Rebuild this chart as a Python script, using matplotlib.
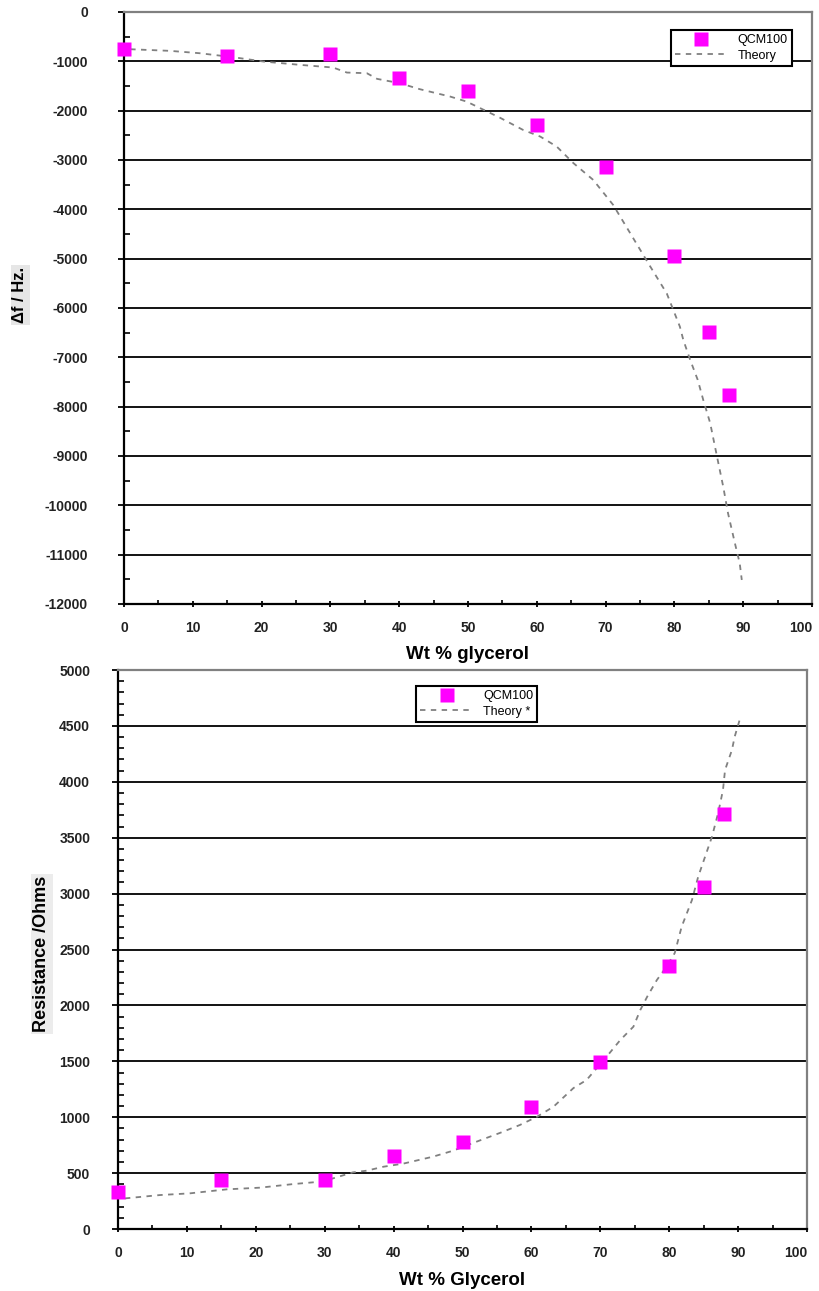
import numpy as np
import matplotlib
matplotlib.use("Agg")
import matplotlib.pyplot as plt
from matplotlib.ticker import MultipleLocator

plt.rcParams['font.family'] = ['Liberation Sans', 'DejaVu Sans']
plt.rcParams['axes.unicode_minus'] = False

# ---- data ----
wt_meas = [0, 15, 30, 40, 50, 60, 70, 80, 85, 88]
df_meas = [-760, -890, -850, -1340, -1610, -2290, -3150, -4950, -6480, -7770]
res_meas = [330, 440, 440, 655, 780, 1095, 1490, 2355, 3055, 3715]

wt_theory_f = [0.9, 6.7, 11.0, 15.9, 20.3, 25.6, 30.4, 32.4, 35.3, 36.8, 40.1,
               43.0, 47.4, 49.8, 51.7, 54.7, 58.0, 60.5, 62.9, 65.3, 68.2,
               71.1, 74.0, 76.5, 78.9, 80.8, 81.3, 82.3, 83.4, 84.2, 85.2,
               86.2, 87.1, 87.8, 88.8, 89.5, 89.8]
df_theory = [-757, -790, -838, -919, -1007, -1074, -1128, -1230, -1243, -1358,
             -1446, -1567, -1716, -1818, -1946, -2149, -2392, -2527, -2730,
             -3062, -3405, -3912, -4583, -5162, -5708, -6379, -6649, -7054,
             -7460, -7865, -8331, -9014, -9622, -10162, -10770, -11176, -11514]

wt_theory_r = [1.0, 6.1, 10.4, 15.8, 20.6, 25.4, 29.3, 31.2, 34.1, 36.1, 38.5,
               41.4, 45.7, 48.6, 51.5, 55.4, 58.3, 60.8, 63.2, 66.1, 68.0,
               70.9, 72.9, 74.8, 75.8, 76.8, 78.2, 79.6, 80.8, 81.8, 83.3,
               84.2, 85.2, 86.2, 87.1, 87.8, 88.1, 89.1, 89.5, 90.3]
res_theory = [274, 304, 319, 355, 370, 402, 423, 453, 507, 522, 557, 585, 647,
              700, 769, 859, 930, 1004, 1094, 1261, 1333, 1541, 1691, 1810,
              1959, 2078, 2227, 2346, 2469, 2704, 2943, 3151, 3330, 3509, 3721,
              3927, 4106, 4285, 4404, 4571]

MAGENTA = '#ff00ff'
GRAY = '#808080'


def style_axes(ax, ymin, ymax, ymajor, yminor, ypad):
    ax.set_xlim(0, 100)
    ax.set_ylim(ymin, ymax)
    ax.set_xticks(np.arange(0, 101, 10))
    ax.xaxis.set_minor_locator(MultipleLocator(5))
    ax.set_yticks(np.arange(ymin, ymax + 1, ymajor))
    ax.yaxis.set_minor_locator(MultipleLocator(yminor))
    # horizontal grid lines (not at the frame edges)
    for v in np.arange(ymin + ymajor, ymax, ymajor):
        ax.axhline(v, color='black', lw=1.3, zorder=1)
    ax.spines['left'].set_linewidth(1.6)
    ax.spines['bottom'].set_linewidth(1.6)
    ax.spines['top'].set_color(GRAY)
    ax.spines['right'].set_color(GRAY)
    ax.spines['top'].set_linewidth(1.6)
    ax.spines['right'].set_linewidth(1.6)
    ax.tick_params(axis='y', which='major', direction='out', length=4,
                   width=1.3, labelsize=10, pad=ypad)
    ax.tick_params(axis='y', which='minor', direction='in', length=4, width=1.2)
    ax.tick_params(axis='x', which='major', direction='inout', length=5,
                   width=1.3, labelsize=10, pad=10)
    ax.tick_params(axis='x', which='minor', direction='in', length=3, width=1.2)
    for lab in ax.get_xticklabels() + ax.get_yticklabels():
        lab.set_fontweight('bold')
        lab.set_color('#222222')
    # keep the "100" label inside the figure
    ax.get_xticklabels()[-1].set_horizontalalignment('right')


fig = plt.figure(figsize=(8.19, 12.91), dpi=100)

# ---- top: frequency shift ----
ax1 = fig.add_axes([0.1514, 0.5322, 0.840, 0.4586])
style_axes(ax1, -12000, 0, 1000, 500, 22)
ax1.plot(wt_theory_f, df_theory, color=GRAY, lw=1.3, ls=(0, (3, 3)),
         label='Theory', zorder=3)
ax1.plot(wt_meas, df_meas, 's', color=MAGENTA, ms=10, mec='none',
         label='QCM100', zorder=4, clip_on=False)
h, l = ax1.get_legend_handles_labels()
leg1 = ax1.legend(h[::-1], l[::-1], loc='upper right',
                  bbox_to_anchor=(792 / 819, 1 - 30 / 1291),
                  bbox_transform=fig.transFigure, fontsize=9, fancybox=False,
                  framealpha=1, edgecolor='black', borderpad=0.35,
                  handlelength=4.2, handletextpad=0.8, labelspacing=0.25,
                  borderaxespad=0)
leg1.get_frame().set_linewidth(1.5)
ax1.set_xlabel('Wt % glycerol', fontsize=13.5, fontweight='bold', labelpad=8)
fig.text(20 / 819, 1 - 295 / 1291, 'Δf / Hz.', rotation=90, fontsize=12,
         fontweight='bold', ha='center', va='center',
         bbox=dict(facecolor='#e6e6e6', edgecolor='none', pad=1.5))

# ---- bottom: resistance ----
ax2 = fig.add_axes([0.1441, 0.048, 0.8413, 0.433])
style_axes(ax2, 0, 5000, 500, 100, 16)
ax2.plot(wt_theory_r, res_theory, color=GRAY, lw=1.3, ls=(0, (3, 3)),
         label='Theory *', zorder=3)
ax2.plot(wt_meas, res_meas, 's', color=MAGENTA, ms=10, mec='none',
         label='QCM100', zorder=4, clip_on=False)
h, l = ax2.get_legend_handles_labels()
leg2 = ax2.legend(h[::-1], l[::-1], loc='upper left',
                  bbox_to_anchor=(416 / 819, 1 - 686 / 1291),
                  bbox_transform=fig.transFigure, fontsize=9, fancybox=False,
                  framealpha=1, edgecolor='black', borderpad=0.35,
                  handlelength=4.2, handletextpad=0.8, labelspacing=0.25,
                  borderaxespad=0)
leg2.get_frame().set_linewidth(1.5)
ax2.set_xlabel('Wt % Glycerol', fontsize=13.5, fontweight='bold', labelpad=8)
fig.text(42 / 819, 1 - 954 / 1291, 'Resistance /Ohms', rotation=90,
         fontsize=13, fontweight='bold', ha='center', va='center',
         bbox=dict(facecolor='#ececec', edgecolor='none', pad=1.5))

fig.savefig('out.png', dpi=100)
